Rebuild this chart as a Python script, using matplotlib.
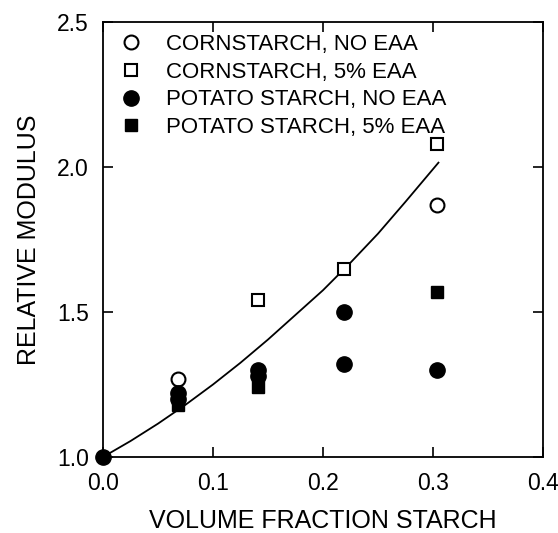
import matplotlib.pyplot as plt
from matplotlib.ticker import MultipleLocator, FormatStrFormatter
import matplotlib as mpl

mpl.rc('font', family=['Liberation Sans', 'DejaVu Sans'], size=13)

# cornstarch, no EAA
corn_x = [0.068, 0.304]
corn_y = [1.27, 1.87]
# cornstarch, 5% EAA
corn_eaa_x = [0.141, 0.219, 0.304]
corn_eaa_y = [1.54, 1.65, 2.08]
# potato starch, no EAA
pot_x = [0.0, 0.068, 0.068, 0.141, 0.141, 0.219, 0.219, 0.304]
pot_y = [1.0, 1.22, 1.20, 1.30, 1.28, 1.50, 1.32, 1.30]
# potato starch, 5% EAA
pot_eaa_x = [0.068, 0.141, 0.304]
pot_eaa_y = [1.18, 1.24, 1.57]

# model curve
fit_x = [0.0, 0.025, 0.05, 0.075, 0.1, 0.125, 0.15, 0.175, 0.2, 0.225, 0.25, 0.275, 0.305]
fit_y = [1.0, 1.055, 1.115, 1.18, 1.25, 1.325, 1.405, 1.49, 1.575, 1.67, 1.77, 1.88, 2.015]

fig = plt.figure(figsize=(5.58, 5.33), dpi=100)
ax = fig.add_axes([0.1846, 0.1426, 0.7884, 0.8161])

ax.plot(fit_x, fit_y, color='black', lw=1.3, zorder=2)
ax.plot(corn_x, corn_y, 'o', mfc='white', mec='black', mew=1.5, ms=10,
        ls='none', label='CORNSTARCH, NO EAA', zorder=3, clip_on=False)
ax.plot(corn_eaa_x, corn_eaa_y, 's', mfc='white', mec='black', mew=1.5, ms=8,
        ls='none', label='CORNSTARCH, 5% EAA', zorder=3, clip_on=False)
ax.plot(pot_x, pot_y, 'o', color='black', ms=11,
        ls='none', label='POTATO STARCH, NO EAA', zorder=4, clip_on=False)
ax.plot(pot_eaa_x, pot_eaa_y, 's', color='black', ms=9,
        ls='none', label='POTATO STARCH, 5% EAA', zorder=4, clip_on=False)

ax.set_xlim(0, 0.4)
ax.set_ylim(1.0, 2.5)
ax.xaxis.set_major_locator(MultipleLocator(0.1))
ax.yaxis.set_major_locator(MultipleLocator(0.5))
ax.xaxis.set_major_formatter(FormatStrFormatter('%.1f'))
ax.yaxis.set_major_formatter(FormatStrFormatter('%.1f'))
ax.tick_params(direction='in', length=7, width=1.2, top=True, right=True,
               labelsize=16.5)
ax.tick_params(axis='x', pad=11)
ax.tick_params(axis='y', pad=10)
for s in ax.spines.values():
    s.set_linewidth(1.3)

ax.set_xlabel('VOLUME FRACTION STARCH', fontsize=18, labelpad=10)
ax.set_ylabel('RELATIVE MODULUS', fontsize=18, labelpad=12)

ax.legend(loc='upper left', frameon=False, fontsize=16, handletextpad=1.1,
          labelspacing=0.3, borderaxespad=0.0, handlelength=1.0,
          bbox_to_anchor=(0.018, 0.993))

fig.savefig('out.png', dpi=100)
